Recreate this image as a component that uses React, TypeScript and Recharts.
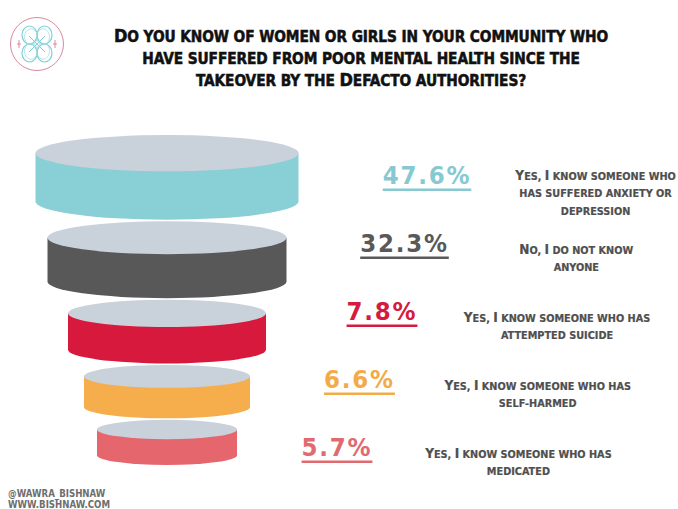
import React, { useLayoutEffect, useRef, useState } from 'react';
import { BarChart, Bar, XAxis, YAxis, LabelList, Customized } from 'recharts';

// ---------- data ----------
const categories = [
  'Yes, I know someone who has suffered anxiety or depression',
  'No, I do not know anyone',
  'Yes, I know someone who has attempted suicide',
  'Yes, I know someone who has self-harmed',
  'Yes, I know someone who has medicated',
];
const values = [47.6, 32.3, 7.8, 6.6, 5.7];
const categoryLines = [
  ['Yes, I know someone who', 'has suffered anxiety or', 'depression'],
  ['No, I do not know', 'anyone'],
  ['Yes, I know someone who has', 'attempted suicide'],
  ['Yes, I know someone who has', 'self-harmed'],
  ['Yes, I know someone who has', 'medicated'],
];
const titleLines = [
  'Do you know of women or girls in your community who',
  'have suffered from poor mental health since the',
  'takeover by the Defacto authorities?',
];
const footerLines = ['@wawra_bishnaw', 'www.bishnaw.com'];

// ---------- style ----------
const FONT = '"DejaVu Sans Condensed", "DejaVu Sans", sans-serif';
const SIDE_COLORS = ['#88cfd6', '#585858', '#d7193d', '#f6ae4c', '#e5666c'];
const TEXT_COLORS = ['#86c9d1', '#595959', '#d51b3e', '#f2ab48', '#e06a6f'];
const TOP_COLOR = '#c9d1da';
const CYL_WIDTHS = [263, 239, 198, 166, 140];
const CYL_CX = 167;
const H_RATIO = 0.322;
const RY_RATIO = 0.069;
const GAP = 1.5;
const STACK_OFFSET = -5;
const PCT_X = 382;
const PCT_STEP = -22.5;
const DESC_X = 557;
const DESC_STEP = -19.3;

const data = categories.map((name, i) => ({ name, value: values[i] }));

type SCProps = {
  x: number;
  y: number;
  text: string;
  size: number;
  ratio?: number;
  anchor?: 'start' | 'middle' | 'end';
  fill: string;
  letterSpacing?: number;
  strokeWidth?: number;
};

function SmallCapsText({ x, y, text, size, ratio = 0.8, anchor = 'middle', fill, letterSpacing = 0, strokeWidth = 0 }: SCProps) {
  const runs: { big: boolean; s: string }[] = [];
  for (const ch of text) {
    const big = /[A-Z0-9%]/.test(ch);
    const last = runs[runs.length - 1];
    if (last && last.big === big) last.s += ch;
    else runs.push({ big, s: ch });
  }
  return (
    <text
      x={x}
      y={y}
      textAnchor={anchor}
      fill={fill}
      stroke={strokeWidth ? fill : undefined}
      strokeWidth={strokeWidth || undefined}
      fontFamily={FONT}
      fontWeight="bold"
      letterSpacing={letterSpacing}
      style={{ textTransform: 'uppercase', whiteSpace: 'pre' }}
    >
      {runs.map((r, k) => (
        <tspan key={k} fontSize={r.big ? size : size * ratio}>
          {r.s}
        </tspan>
      ))}
    </text>
  );
}

function PctLabel({ cx, baseline, text, color }: { cx: number; baseline: number; text: string; color: string }) {
  const ref = useRef<SVGTextElement>(null);
  const [w, setW] = useState(85);
  useLayoutEffect(() => {
    if (ref.current) {
      const bb = ref.current.getBBox();
      if (Math.abs(bb.width - w) > 0.5) setW(bb.width);
    }
  });
  return (
    <g>
      <text
        ref={ref}
        x={cx}
        y={baseline}
        textAnchor="middle"
        fill={color}
        fontFamily={FONT}
        fontWeight="bold"
        fontSize={25.5}
        letterSpacing={1.8}
      >
        {text}
      </text>
      <rect x={cx - w / 2} y={baseline + 5} width={w} height={2.5} fill={color} />
    </g>
  );
}

const CylinderShape = (props: any) => {
  const { y, height } = props;
  const i: number = props.index ?? categories.indexOf(props.payload?.name);
  const plotTop = y - i * height;
  let t = plotTop + STACK_OFFSET;
  for (let k = 0; k < i; k++) t += CYL_WIDTHS[k] * H_RATIO + GAP;
  const w = CYL_WIDTHS[i];
  const h = w * H_RATIO;
  const ry = w * RY_RATIO;
  const l = CYL_CX - w / 2;
  const r = CYL_CX + w / 2;
  return (
    <g>
      <path
        d={`M${l},${t + ry} L${l},${t + h - ry} A${w / 2},${ry} 0 0 0 ${r},${t + h - ry} L${r},${t + ry} Z`}
        fill={SIDE_COLORS[i]}
      />
      <ellipse cx={CYL_CX} cy={t + ry} rx={w / 2} ry={ry} fill={TOP_COLOR} />
    </g>
  );
};

const renderLabel = (props: any) => {
  const { y, height, value } = props;
  const i: number = props.index ?? values.indexOf(value);
  const center = y + height / 2;
  const baseline = center + 9.5;
  const px = PCT_X + PCT_STEP * (i - 2);
  const dx = DESC_X + DESC_STEP * (i - 2);
  const lines = categoryLines[i];
  const first = baseline + 2 - (lines.length - 2) * 6;
  return (
    <g key={`lbl-${i}`}>
      <PctLabel cx={px} baseline={baseline} text={`${value}%`} color={TEXT_COLORS[i]} />
      {lines.map((ln, k) => (
        <SmallCapsText key={k} x={dx} y={first + k * 17.5} text={ln} size={13.5} fill="#4f4f4f" strokeWidth={0.2} />
      ))}
    </g>
  );
};

const Decorations = () => (
  <g>
    {/* logo */}
    <circle cx={37} cy={44} r={26.5} fill="none" stroke="#d98a9c" strokeWidth={1} />
    {[[-7.5, -9], [7.5, -9], [-7.5, 9], [7.5, 9]].map(([ox, oy], k) => (
      <g key={k}>
        <ellipse cx={37 + ox} cy={44 + oy} rx={7.5} ry={9} fill="none" stroke="#7fcfd8" strokeWidth={1.2} />
        <ellipse cx={37 + ox * 0.8} cy={44 + oy * 0.8} rx={6.5} ry={8} fill="none" stroke="#a6dde3" strokeWidth={0.8} />
      </g>
    ))}
    <path d="M29,36 L45,52 M45,36 L29,52" stroke="#7fcfd8" strokeWidth={1} />
    <path d="M19,40 L19,48 M17,44 L21,44" stroke="#d98a9c" strokeWidth={1} />
    <path d="M55,40 L55,48 M53,44 L57,44" stroke="#d98a9c" strokeWidth={1} />
    {/* title */}
    {titleLines.map((ln, k) => (
      <SmallCapsText
        key={`t${k}`}
        x={361}
        y={42 + k * 22}
        text={ln}
        size={18}
        ratio={0.85}
        fill="#111111"
        letterSpacing={-0.1}
        strokeWidth={0.5}
      />
    ))}
    {/* footer */}
    {footerLines.map((ln, k) => (
      <SmallCapsText key={`f${k}`} x={8} y={497 + k * 11} text={ln} size={12} anchor="start" fill="#6e6e6e" />
    ))}
  </g>
);

export default function App() {
  return (
    <div style={{ position: 'absolute', left: 0, top: 0, width: 678, height: 509, background: '#ffffff' }}>
      <BarChart
        width={678}
        height={509}
        data={data}
        layout="vertical"
        margin={{ top: 140, right: 0, bottom: 29, left: 0 }}
        barCategoryGap={0}
      >
        <XAxis type="number" hide domain={[0, 50]} />
        <YAxis type="category" dataKey="name" hide />
        <Customized component={Decorations} />
        <Bar dataKey="value" shape={CylinderShape} isAnimationActive={false}>
          <LabelList dataKey="value" content={renderLabel} />
        </Bar>
      </BarChart>
    </div>
  );
}
